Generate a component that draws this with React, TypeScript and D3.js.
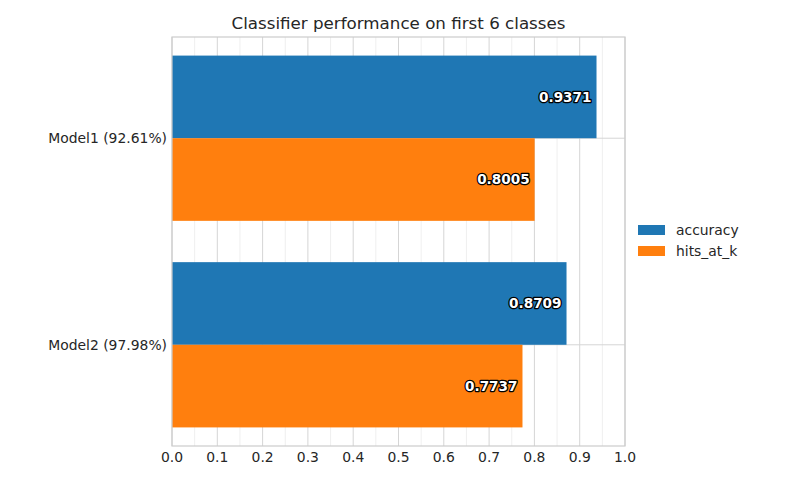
import { useEffect, useRef } from 'react';
import { select, scaleLinear, range, format } from 'd3';

const models = ['Model1 (92.61%)', 'Model2 (97.98%)'];
const seriesNames = ['accuracy', 'hits_at_k'];
const accuracy = [0.9371, 0.8709];
const hitsAtK = [0.8005, 0.7737];
const xTicks = [0, 0.1, 0.2, 0.3, 0.4, 0.5, 0.6, 0.7, 0.8, 0.9, 1.0];
const colors = ['#1f77b4', '#ff7f0e'];

const W = 792;
const H = 480;
const m = { left: 172, right: 625, top: 37, bottom: 446 };
const FONT = "'DejaVu Sans', sans-serif";
const FS = 13.9;

const App = () => {
  const ref = useRef<SVGSVGElement>(null);

  useEffect(() => {
    const svg = select(ref.current);
    svg.selectAll('*').remove();

    const x = scaleLinear().domain([0, 1]).range([m.left, m.right]);
    // categories at 0,1 with bar group of 0.8 plus 5% margins
    const y = scaleLinear().domain([-0.49, 1.49]).range([m.top, m.bottom]);
    const barH = 0.4;

    svg.append('rect').attr('x', 0).attr('y', 0).attr('width', W).attr('height', H).attr('fill', '#fff');

    // minor grid
    const minor = range(0.05, 1, 0.1);
    svg
      .selectAll('.minor')
      .data(minor)
      .join('line')
      .attr('x1', (d) => x(d))
      .attr('x2', (d) => x(d))
      .attr('y1', m.top)
      .attr('y2', m.bottom)
      .attr('stroke', '#ebebeb')
      .attr('stroke-width', 0.8);

    svg
      .selectAll('.major')
      .data(xTicks)
      .join('line')
      .attr('x1', (d) => x(d))
      .attr('x2', (d) => x(d))
      .attr('y1', m.top)
      .attr('y2', m.bottom)
      .attr('stroke', '#d5d5d5')
      .attr('stroke-width', 1);

    svg
      .selectAll('.hgrid')
      .data(models)
      .join('line')
      .attr('x1', m.left)
      .attr('x2', m.right)
      .attr('y1', (_, i) => y(i))
      .attr('y2', (_, i) => y(i))
      .attr('stroke', '#d5d5d5')
      .attr('stroke-width', 1);

    const series = [accuracy, hitsAtK];
    series.forEach((vals, s) => {
      const g = svg.append('g');
      g.selectAll('rect')
        .data(vals)
        .join('rect')
        .attr('x', x(0))
        .attr('y', (_, i) => y(i - barH + s * barH))
        .attr('width', (d) => x(d) - x(0))
        .attr('height', y(barH) - y(0))
        .attr('fill', colors[s]);

      g.selectAll('text')
        .data(vals)
        .join('text')
        .attr('x', (d) => x(d) - 5)
        .attr('y', (_, i) => y(i - barH / 2 + s * barH))
        .attr('dy', '0.35em')
        .attr('text-anchor', 'end')
        .attr('font-family', FONT)
        .attr('font-size', 13.6)
        .attr('font-weight', 'bold')
        .attr('fill', '#fff')
        .attr('stroke', '#000')
        .attr('stroke-width', 2.6)
        .attr('stroke-linejoin', 'round')
        .attr('paint-order', 'stroke')
        .text((d) => format('.4f')(d));
    });

    // frame
    svg
      .append('rect')
      .attr('x', m.left)
      .attr('y', m.top)
      .attr('width', m.right - m.left)
      .attr('height', m.bottom - m.top)
      .attr('fill', 'none')
      .attr('stroke', '#cccccc')
      .attr('stroke-width', 1.2);

    // x tick labels
    svg
      .selectAll('.xt')
      .data(xTicks)
      .join('text')
      .attr('x', (d) => x(d))
      .attr('y', m.bottom + 16)
      .attr('text-anchor', 'middle')
      .attr('font-family', FONT)
      .attr('font-size', FS)
      .attr('fill', '#262626')
      .text((d) => format('.1f')(d));

    // y tick labels
    svg
      .selectAll('.yt')
      .data(models)
      .join('text')
      .attr('x', m.left - 5)
      .attr('y', (_, i) => y(i))
      .attr('dy', '0.35em')
      .attr('text-anchor', 'end')
      .attr('font-family', FONT)
      .attr('font-size', FS)
      .attr('fill', '#262626')
      .text((d) => d);

    svg
      .append('text')
      .attr('x', (m.left + m.right) / 2)
      .attr('y', m.top - 8)
      .attr('text-anchor', 'middle')
      .attr('font-family', FONT)
      .attr('font-size', 16.7)
      .attr('fill', '#262626')
      .text('Classifier performance on first 6 classes');

    // legend
    const lg = svg.append('g').attr('transform', 'translate(638, 225)');
    seriesNames.forEach((name, i) => {
      lg.append('rect')
        .attr('x', 0)
        .attr('y', i * 21)
        .attr('width', 27)
        .attr('height', 10)
        .attr('fill', colors[i]);
      lg.append('text')
        .attr('x', 38)
        .attr('y', i * 21 + 5)
        .attr('dy', '0.35em')
        .attr('font-family', FONT)
        .attr('font-size', FS)
        .attr('fill', '#262626')
        .text(name);
    });
  }, []);

  return <svg ref={ref} width={W} height={H} style={{ display: 'block', margin: -8 }} />;
};

export default App;
